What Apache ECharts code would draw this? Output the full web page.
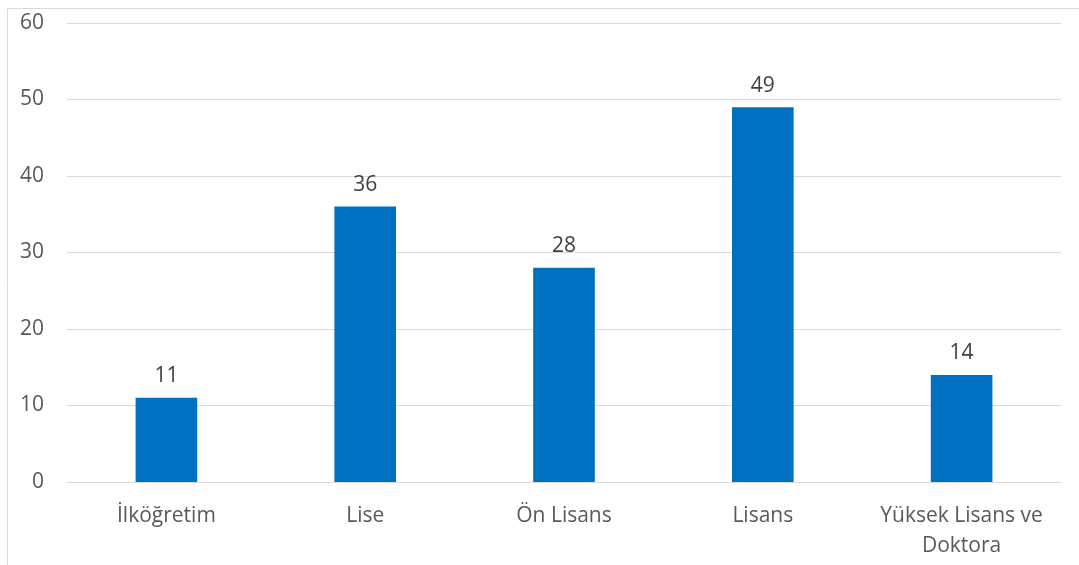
<!DOCTYPE html>
<html><head><meta charset="utf-8">
<script src="https://cdn.jsdelivr.net/npm/echarts@6/dist/echarts.min.js"></script>
<style>html,body{margin:0;padding:0;background:#fff}#c{width:1079px;height:565px}</style>
</head><body><div id="c"></div>
<script>
const categories = ['İlköğretim', 'Lise', 'Ön Lisans', 'Lisans', 'Yüksek Lisans ve\nDoktora'];
const values = [11, 36, 28, 49, 14];
const yTicks = {min: 0, max: 60, interval: 10};

const chart = echarts.init(document.getElementById('c'));
const font = '"Open Sans", sans-serif';
chart.setOption({
  animation: false,
  graphic: [{
    type: 'rect', shape: {x: 7.5, y: 8.5, width: 1200, height: 700},
    style: {fill: 'none', stroke: '#d9d9d9', lineWidth: 1}, silent: true, z: -1
  }],
  grid: {left: 67, right: 18, top: 23, bottom: 83, containLabel: false},
  xAxis: {
    type: 'category', data: categories,
    axisLine: {lineStyle: {color: '#d9d9d9', width: 1}},
    axisTick: {show: false},
    axisLabel: {color: '#595959', fontSize: 21, fontFamily: font, margin: 19, lineHeight: 30, interval: 0}
  },
  yAxis: {
    type: 'value', min: yTicks.min, max: yTicks.max, interval: yTicks.interval,
    axisLine: {show: false}, axisTick: {show: false},
    splitLine: {lineStyle: {color: '#d9d9d9', width: 1}},
    axisLabel: {color: '#595959', fontSize: 21, fontFamily: font, margin: 23}
  },
  series: [{
    type: 'bar', data: values, barWidth: '31%',
    itemStyle: {color: '#0070c0'},
    label: {show: true, position: 'top', distance: 11, color: '#404040', fontSize: 21, fontFamily: font}
  }]
});
</script></body></html>
